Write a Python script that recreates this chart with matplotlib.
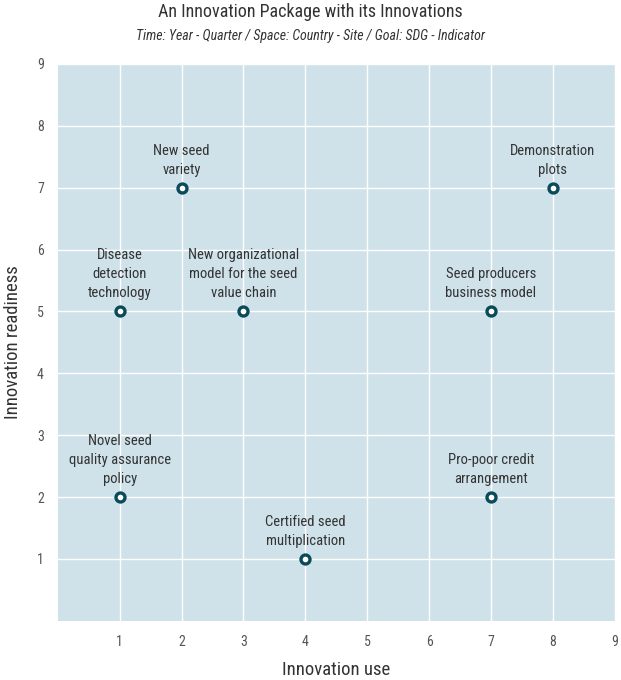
import numpy as np
import matplotlib
matplotlib.use('Agg')
import matplotlib.pyplot as plt
from matplotlib import font_manager

installed = {f.name for f in font_manager.fontManager.ttflist}
fams = [f for f in ['Roboto Condensed', 'Liberation Sans Narrow', 'Roboto', 'DejaVu Sans'] if f in installed]
plt.rcParams['font.family'] = fams
plt.rcParams['font.stretch'] = 'condensed'

# Data --------------------------------------------------------------------
names = [
    'New seed\nvariety',
    'Demonstration\nplots',
    'Disease\ndetection\ntechnology',
    'New organizational\nmodel for the seed\nvalue chain',
    'Seed producers\nbusiness model',
    'Novel seed\nquality assurance\npolicy',
    'Pro-poor credit\narrangement',
    'Certified seed\nmultiplication',
]
use = [2, 8, 1, 3, 7, 1, 7, 4]
readiness = [7, 7, 5, 5, 5, 2, 2, 1]
ticks = list(range(1, 10))

BG = '#cfe2ea'
MARK = '#0b4a5a'

fig = plt.figure(figsize=(6.21, 6.80), dpi=100)
ax = fig.add_axes([0.093, 0.087, 0.897, 0.819])
ax.set_facecolor(BG)
ax.set_xlim(0, 9)
ax.set_ylim(0, 9)
ax.set_xticks(ticks)
ax.set_yticks(ticks)
ax.grid(True, color='white', linewidth=1.0)
ax.set_axisbelow(True)
for s in ax.spines.values():
    s.set_visible(False)
ax.tick_params(length=0, colors='#555555', labelsize=10, pad=10)

ax.scatter(use, readiness, s=42, facecolor='white', edgecolor=MARK,
           linewidth=2.4, zorder=3)
for n, x, y in zip(names, use, readiness):
    ax.annotate(n, (x, y), xytext=(0, 8), textcoords='offset points',
                ha='center', va='bottom', fontsize=10.5, color='#333333',
                linespacing=1.45, zorder=4)

ax.set_xlabel('Innovation use', fontsize=13.5, color='#333333', labelpad=9)
ax.set_ylabel('Innovation readiness', fontsize=13.5, color='#333333', labelpad=11)

fig.text(0.5, 0.995, 'An Innovation Package with its Innovations',
         ha='center', va='top', fontsize=13, color='#333333')
fig.text(0.5, 0.958, 'Time: Year - Quarter / Space: Country - Site / Goal: SDG - Indicator',
         ha='center', va='top', fontsize=10, style='italic', color='#333333')

fig.savefig('out.png', dpi=100, facecolor='white')
